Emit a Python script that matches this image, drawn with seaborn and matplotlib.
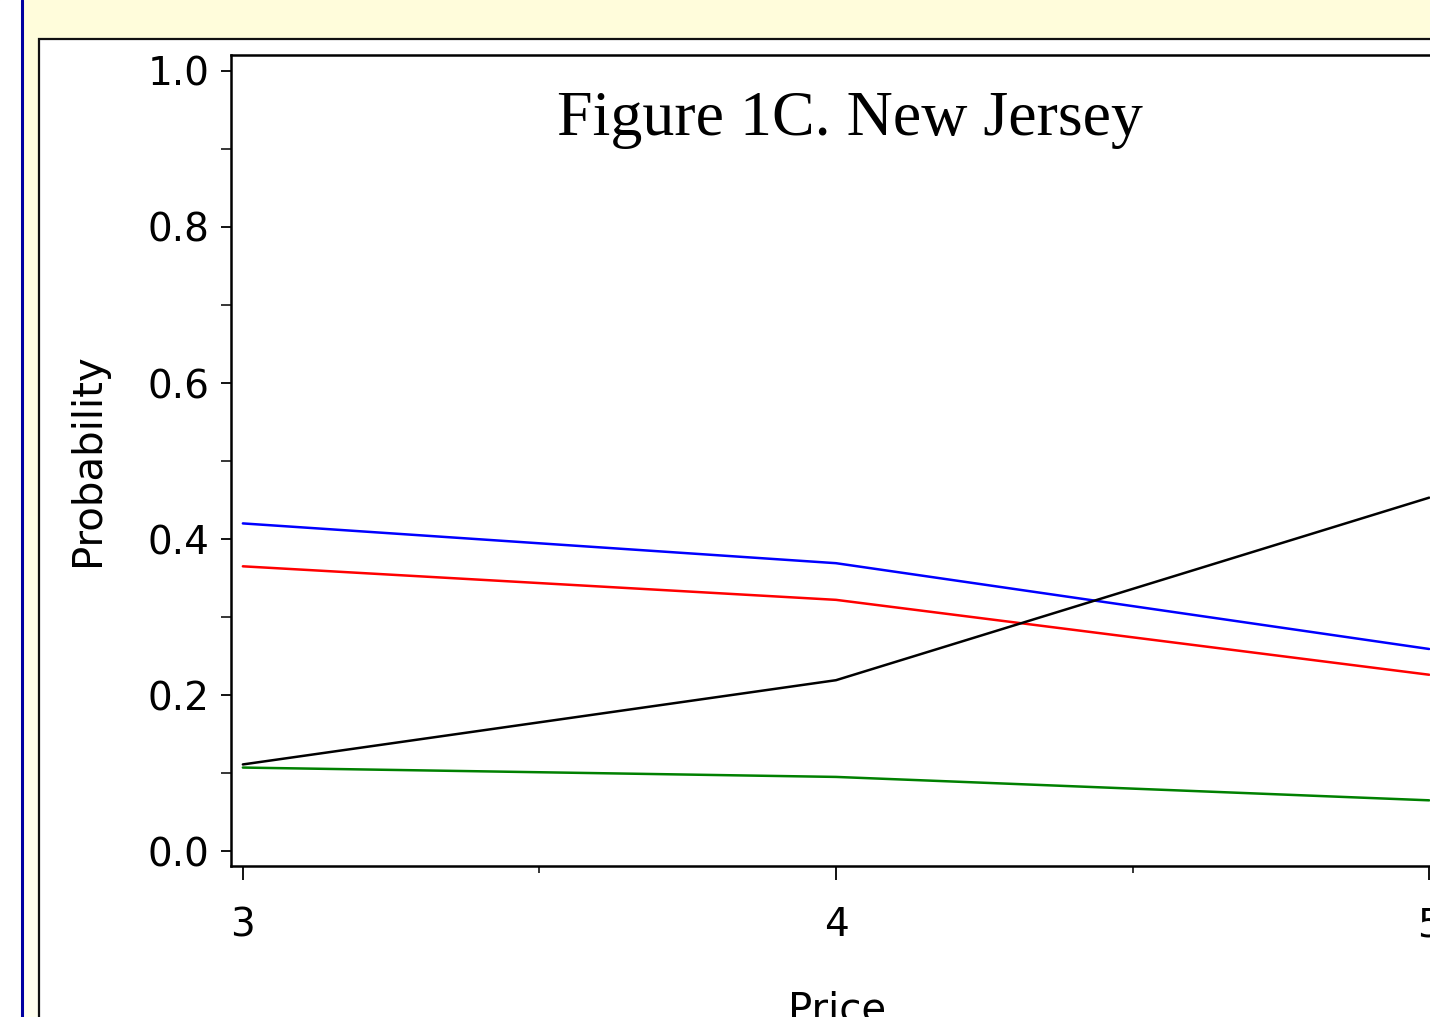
import numpy as np
import pandas as pd
import matplotlib
matplotlib.use("Agg")
import matplotlib.pyplot as plt
from matplotlib.patches import Rectangle
from matplotlib.lines import Line2D
from matplotlib.ticker import MultipleLocator
import seaborn as sns

sns.set_theme(style="white")
plt.rcParams['font.family'] = ['DejaVu Sans']
plt.rcParams['text.color'] = 'black'
plt.rcParams['xtick.color'] = 'black'
plt.rcParams['ytick.color'] = 'black'

# data
price = [3, 4, 5]
blue_prob = [0.420, 0.369, 0.259]
red_prob = [0.365, 0.322, 0.226]
black_prob = [0.111, 0.219, 0.453]
green_prob = [0.107, 0.095, 0.065]

series = ["blue", "red", "black", "green"]
colors = {"blue": "#0000FF", "red": "#FF0000", "black": "#000000", "green": "#008000"}

df = pd.DataFrame({
    "Price": price * 4,
    "Probability": blue_prob + red_prob + black_prob + green_prob,
    "series": [s for s in series for _ in price],
})

W, H = 1430, 1017
fig = plt.figure(figsize=(W / 100, H / 100), dpi=100)

# page background: pale yellow gradient, blue rule, white framed panel
bg = fig.add_axes([0, 0, 1, 1], zorder=-10)
bg.set_axis_off()
grad = np.linspace(0, 1, 256).reshape(-1, 1)
top = np.array([1.0, 0.992, 0.86])
bot = np.array([1.0, 1.0, 0.94])
img = top[None, None, :] * (1 - grad[..., None]) + bot[None, None, :] * grad[..., None]
bg.imshow(img, aspect="auto", extent=[0, 1, 0, 1], origin="upper")
bg.add_patch(Rectangle((0, 0), 21 / W, 1, color="white", zorder=2))
bg.add_line(Line2D([22 / W, 22 / W], [0, 1], color="#0000A0", lw=2.2, zorder=3))
bg.add_patch(Rectangle((39 / W, -0.1), 1.2, (H - 39) / H + 0.1, facecolor="white",
                       edgecolor="#111111", lw=1.6, zorder=3))
bg.set_xlim(0, 1)
bg.set_ylim(0, 1)

ax = fig.add_axes([231 / W, (H - 866) / H, 1210 / W, 811 / H])
sns.lineplot(data=df, x="Price", y="Probability", hue="series", palette=colors,
             linewidth=1.8, legend=False, ax=ax)

ax.set_xlim(2.98, 5.02)
ax.set_ylim(-0.0192, 1.0205)
ax.set_xticks([3, 4, 5])
ax.set_yticks([0.0, 0.2, 0.4, 0.6, 0.8, 1.0])
ax.set_yticklabels(["0.0", "0.2", "0.4", "0.6", "0.8", "1.0"])
ax.xaxis.set_minor_locator(MultipleLocator(0.5))
ax.yaxis.set_minor_locator(MultipleLocator(0.1))
ax.tick_params(axis="y", which="major", direction="out", length=7, width=1.3,
               labelsize=28, pad=8.5, left=True, color="black", labelcolor="black")
ax.tick_params(axis="y", which="minor", direction="out", length=7, width=1.1, left=True)
ax.tick_params(axis="x", which="major", direction="out", length=10, width=1.3,
               labelsize=28, pad=19, bottom=True, color="black", labelcolor="black")
ax.tick_params(axis="x", which="minor", direction="out", length=5, width=1.1, bottom=True)
for sp in ax.spines.values():
    sp.set_color("black")
    sp.set_linewidth(1.8)
ax.set_xlabel("")
ax.set_ylabel("")

fig.text(850 / W, (H - 135) / H, "Figure 1C. New Jersey", ha="center", va="baseline",
         fontsize=46, family="Liberation Serif", color="black")
fig.text(88 / W, (H - 460) / H, "Probability", rotation=90, ha="center", va="center",
         fontsize=29, color="black")
fig.text(837 / W, (H - 1021) / H, "Price", ha="center", va="baseline",
         fontsize=29, color="black")

fig.savefig("out.png", dpi=100)
